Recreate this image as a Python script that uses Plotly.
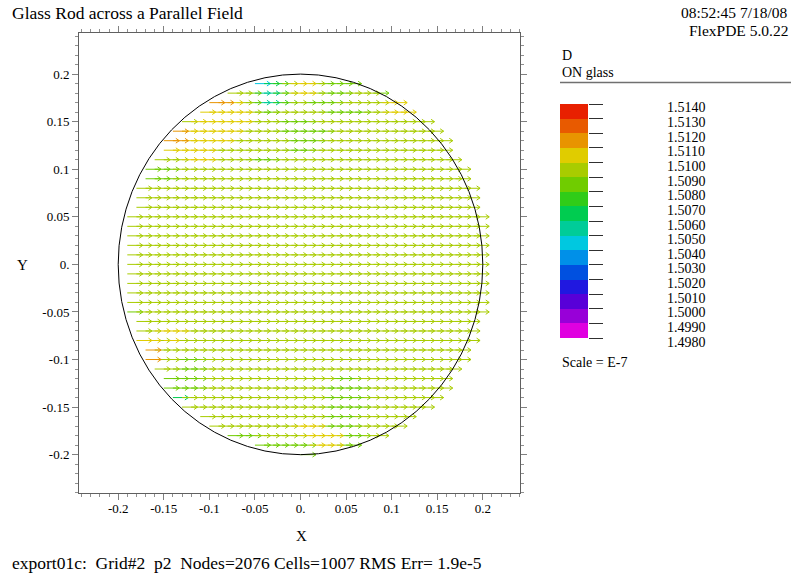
import numpy as np
import plotly.graph_objects as go

# ---- field data (D, x-directed, units of 1e-7) ----
grid_step = 0.01
rod_radius = 0.2
inside_r2 = 0.03955          # sampling points kept inside the meshed rod boundary
default_D = 1.5095

# runs of arrows whose magnitude differs from the bulk value: (row y, x from, x to, value)
run_y = [0.19, 0.19, 0.19, 0.19, 0.19,
         0.18, 0.18, 0.18, 0.18, 0.18, 0.18,
         0.17, 0.17, 0.17, 0.17, 0.17, 0.17, 0.17, 0.17,
         0.16, 0.16, 0.16, 0.16,
         0.15, 0.15,
         0.14, 0.14, 0.14,
         0.13, 0.13, 0.13,
         0.12, 0.12,
         0.11, 0.11,
         0.10, 0.09,
         -0.05, -0.07, -0.08, -0.08, -0.09, -0.10, -0.10, -0.11,
         -0.12, -0.12, -0.13, -0.13, -0.14, -0.14, -0.15, -0.16,
         -0.17, -0.17, -0.18, -0.18, -0.18, -0.19, -0.19, -0.19]
run_x0 = [-0.05, -0.04, -0.03, -0.01, 0.02,
          -0.06, -0.05, -0.03, -0.01, 0.02, 0.08,
          -0.10, -0.08, -0.06, -0.05, -0.03, -0.02, 0.00, 0.09,
          -0.11, -0.05, 0.02, 0.09,
          -0.12, -0.03,
          -0.14, -0.13, -0.03,
          -0.15, -0.13, -0.02,
          -0.15, -0.02,
          -0.13, -0.06,
          -0.17, -0.17,
          -0.19, -0.16, -0.18, -0.15, -0.17, -0.17, -0.14, -0.14,
          -0.15, 0.03, -0.15, 0.02, -0.14, 0.02, 0.02, 0.02,
          -0.01, 0.02, -0.08, 0.00, 0.04, -0.05, 0.01, 0.04]
run_x1 = [-0.05, -0.04, -0.03, 0.00, 0.05,
          -0.06, -0.04, -0.03, 0.00, 0.04, 0.08,
          -0.09, -0.08, -0.06, -0.04, -0.03, -0.02, 0.03, 0.10,
          -0.07, -0.04, 0.06, 0.11,
          -0.07, 0.00,
          -0.14, -0.08, 0.02,
          -0.14, -0.09, 0.01,
          -0.11, 0.00,
          -0.11, -0.04,
          -0.15, -0.15,
          -0.19, -0.14, -0.17, -0.15, -0.17, -0.17, -0.12, -0.12,
          -0.12, 0.05, -0.12, 0.06, -0.14, 0.06, 0.06, 0.05,
          0.01, 0.05, -0.06, 0.03, 0.06, 0.00, 0.03, 0.05]
run_val = [1.5045, 1.5065, 1.5075, 1.5105, 1.5085,
           1.5085, 1.5055, 1.5075, 1.5105, 1.5085, 1.5085,
           1.5115, 1.5105, 1.5085, 1.5055, 1.5075, 1.5085, 1.5085, 1.5105,
           1.5105, 1.5085, 1.5085, 1.5105,
           1.5105, 1.5085,
           1.5115, 1.5105, 1.5085,
           1.5115, 1.5105, 1.5085,
           1.5105, 1.5085,
           1.5105, 1.5085,
           1.5085, 1.5085,
           1.5085, 1.5105, 1.5105, 1.5105, 1.5115, 1.5115, 1.5085, 1.5085,
           1.5085, 1.5085, 1.5085, 1.5085, 1.5065, 1.5085, 1.5085, 1.5085,
           1.5105, 1.5085, 1.5085, 1.5105, 1.5085, 1.5085, 1.5105, 1.5085]

# boundary node sampled at the bottom of the rod
extra_x = [0.0]
extra_y = [-0.2]
extra_val = [1.5085]

# ---- colour legend ----
band_lo = [1.498, 1.499, 1.500, 1.501, 1.502, 1.503, 1.504, 1.505,
           1.506, 1.507, 1.508, 1.509, 1.510, 1.511, 1.512, 1.513]
band_colors = ["#e000e0", "#9800d8", "#5800d8", "#2018e0", "#0050e0", "#0090e8",
               "#00c8e0", "#00cc98", "#00cc50", "#30cc18", "#70cc00", "#a8cc00",
               "#e0cc00", "#e89400", "#e85a00", "#e82000"]
band_labels = ["1.4980", "1.4990", "1.5000", "1.5010", "1.5020", "1.5030", "1.5040",
               "1.5050", "1.5060", "1.5070", "1.5080", "1.5090", "1.5100", "1.5110",
               "1.5120", "1.5130", "1.5140"]
band_edges = band_lo + [1.514]

tick_vals = [-0.2, -0.15, -0.1, -0.05, 0.0, 0.05, 0.1, 0.15, 0.2]
x_tick_text = ["-0.2", "-0.15", "-0.1", "-0.05", "0.", "0.05", "0.1", "0.15", "0.2"]
y_tick_text = ["-0.2", "-0.15", "-0.1", "-0.05", "0.", "0.05", "0.1", "0.15", "0.2"]

# ---- build the arrow grid ----
xs = np.round(np.arange(-20, 21) * grid_step, 2)
ys = np.round(np.arange(-19, 20) * grid_step, 2)
px, py, pv = [], [], []
for y in ys:
    for x in xs:
        if x * x + y * y < inside_r2:
            v = default_D
            for ry, a, b, val in zip(run_y, run_x0, run_x1, run_val):
                if abs(y - ry) < 1e-6 and a - 1e-6 <= x <= b + 1e-6:
                    v = val
            px.append(x); py.append(y); pv.append(v)
px += extra_x; py += extra_y; pv += extra_val

arrow_scale = 0.017 / 1.5095   # data length per unit of D
head_dx, head_dy = 0.0038, 0.0025

fig = go.Figure()
for lo, col in zip(band_lo, band_colors):
    sx, sy = [], []
    for x, y, v in zip(px, py, pv):
        if lo <= v < lo + 0.001:
            tip = x + v * arrow_scale
            sx += [x, tip, None, tip - head_dx, tip, tip - head_dx, None]
            sy += [y, y, None, y + head_dy, y, y - head_dy, None]
    if sx:
        fig.add_trace(go.Scatter(x=sx, y=sy, mode="lines",
                                 line=dict(color=col, width=1),
                                 hoverinfo="skip", showlegend=False))

# colour bar boxes
fig.add_trace(go.Bar(x=[0.5] * len(band_lo), y=[0.001] * len(band_lo), base=band_lo,
                     width=1, marker=dict(color=band_colors, line=dict(width=0)),
                     xaxis="x2", yaxis="y2", showlegend=False, hoverinfo="skip"))

W, H = 791, 575
serif = "Liberation Serif"

fig.add_shape(type="circle", xref="x", yref="y", x0=-rod_radius, x1=rod_radius,
              y0=-rod_radius, y1=rod_radius, line=dict(color="black", width=1))
fig.add_shape(type="line", xref="paper", yref="paper", x0=560 / W, x1=1.0,
              y0=1 - 82.5 / H, y1=1 - 82.5 / H, line=dict(color="#707070", width=1.5))

axis_common = dict(showgrid=False, zeroline=False, showline=True, linecolor="#606060",
                   linewidth=1, mirror="ticks", ticks="outside", ticklen=6,
                   tickcolor="#808080", tickfont=dict(family=serif, size=13, color="black"),
                   minor=dict(dtick=0.01, ticks="outside", ticklen=3, tickcolor="#909090"))

fig.update_layout(
    width=W, height=H, margin=dict(l=0, r=0, t=0, b=0),
    paper_bgcolor="white", plot_bgcolor="white", bargap=0,
    xaxis=dict(domain=[79 / W, 520 / W], range=[-0.243, 0.2408],
               tickvals=tick_vals, ticktext=x_tick_text, ticklabelstandoff=-3,
               **axis_common),
    yaxis=dict(domain=[82 / H, 542 / H], range=[-0.2403, 0.2432],
               tickvals=tick_vals, ticktext=y_tick_text, **axis_common),
    xaxis2=dict(domain=[560 / W, 588 / W], range=[0, 1], anchor="y2", visible=False),
    yaxis2=dict(domain=[1 - 338 / H, 1 - 104 / H], range=[1.498, 1.514], anchor="x2",
                side="right", showgrid=False, zeroline=False, showline=False,
                ticks="outside", ticklen=14, tickcolor="#303030", tickwidth=1,
                tickvals=band_edges, showticklabels=False),
)

def label(text, x, y, size, anchor="left"):
    fig.add_annotation(text=text, x=x / W, y=1 - y / H, xref="paper", yref="paper",
                       xanchor=anchor, yanchor="middle", showarrow=False,
                       font=dict(family=serif, size=size, color="black"))

label("Glass Rod across a Parallel Field", 10, 13, 17.5)
label("08:52:45 7/18/08", 790, 12, 15.5, "right")
label("FlexPDE 5.0.22", 790, 30, 15.5, "right")
label("D", 560, 56, 14)
label("ON glass", 560, 72, 14)
label("Scale = E-7", 560, 362, 14)
label("X", 301, 536, 15, "center")
label("Y", 22, 265, 15, "center")
label("export01c:\u00a0 Grid#2\u00a0 p2\u00a0 Nodes=2076 Cells=1007 RMS Err= 1.9e-5", 10, 563, 17.5)

for edge, txt in zip(band_edges, band_labels):
    fig.add_annotation(text=txt, x=665 / W, y=edge, xref="paper", yref="y2",
                       xanchor="left", yanchor="middle", yshift=-4, showarrow=False,
                       font=dict(family=serif, size=14, color="black"))

fig.write_html("out.html")
